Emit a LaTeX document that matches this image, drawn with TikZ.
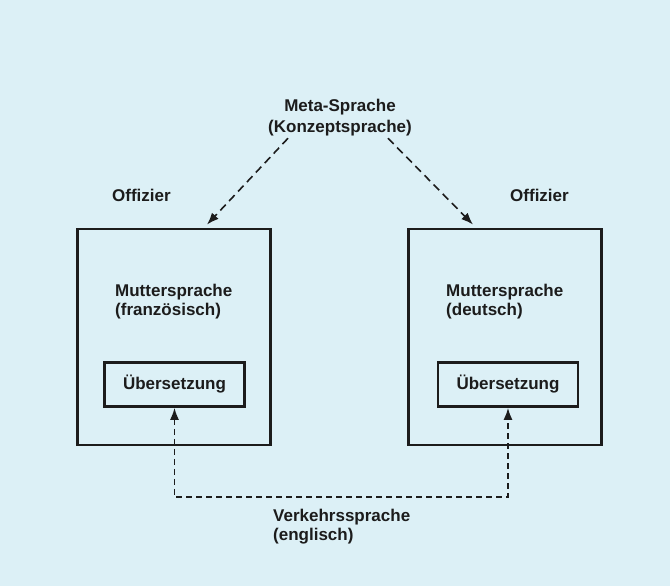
\documentclass[tikz,border=0pt]{standalone}
\usepackage{fontspec}
\setmainfont{Liberation Sans}
\usetikzlibrary{arrows.meta,calc}
\definecolor{bgblue}{RGB}{220,240,246}
\definecolor{ink}{RGB}{28,28,28}
\tikzset{
  lbl/.style={font=\bfseries\fontsize{17}{19}\selectfont, text=ink, inner sep=0pt, align=left},
  outerbox/.style={draw=ink, line width=2.8pt, minimum width=193pt, minimum height=216pt, inner sep=0pt},
  innerbox/.style={draw=ink, line width=2.6pt, minimum width=140pt, minimum height=44pt, inner sep=0pt,
    font=\bfseries\fontsize{17}{19}\selectfont, text=ink},
  metaarrow/.style={draw=ink, line width=1.6pt, dash pattern=on 8pt off 5pt, -{Latex[length=12pt,width=9pt]}},
  linkarrow/.style={draw=ink, line width=1.8pt, dash pattern=on 6pt off 4pt, {Latex[length=12pt,width=9pt]}-{Latex[length=12pt,width=9pt]}}
}
\begin{document}
\begin{tikzpicture}[x=1pt,y=-1pt]
  \fill[bgblue] (0,0) rectangle (670,586);
  \useasboundingbox (0,0) rectangle (670,586);

  % outer boxes
  \node[outerbox] (lbox) at (174,337) {};
  \node[outerbox] (rbox) at (505,337) {};
  % inner boxes
  \node[innerbox] (lin) at (174.5,384.5) {Übersetzung};
  \node[innerbox] (rin) at (508,384.5) {Übersetzung};

  % labels
  \node[lbl, anchor=north west] (loff) at (112,189) {Offizier};
  \node[lbl, anchor=north west] (roff) at (510,189) {Offizier};
  \node[lbl, anchor=north west] (lmut) at (115,284) {Muttersprache\\(französisch)};
  \node[lbl, anchor=north west] (rmut) at (446,284) {Muttersprache\\(deutsch)};
  \node[lbl, align=center, anchor=north, font=\bfseries\fontsize{17}{21}\selectfont] (meta) at (340,99) {Meta-Sprache\\(Konzeptsprache)};
  \node[lbl, anchor=north west] (verk) at (273,509) {Verkehrssprache\\(englisch)};

  % meta arrows
  \draw[metaarrow] ($(meta.south)+(-52,2)$) -- ($(lbox.north)+(33,-3)$);
  \draw[metaarrow] ($(meta.south)+(48,2)$) -- ($(rbox.north)+(-32,-3)$);

  % link between translations
  \coordinate (cb) at (340,497);
  \draw[linkarrow] (lin.south) |- (cb) -| (rin.south);
\end{tikzpicture}
\end{document}
